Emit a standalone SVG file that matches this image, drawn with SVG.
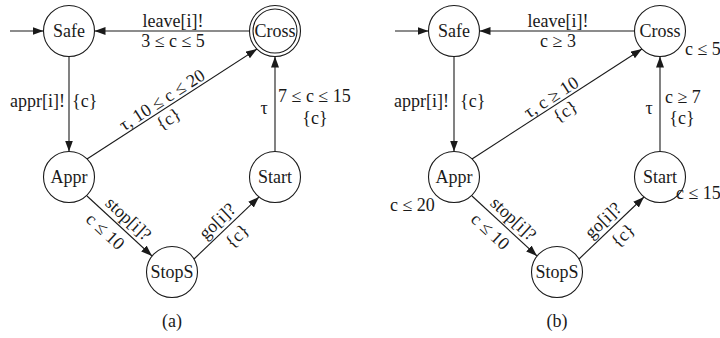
<svg xmlns="http://www.w3.org/2000/svg" width="720" height="338" viewBox="0 0 720 338">
<defs>
<style>
text{font-family:"Liberation Serif","Times New Roman",serif;font-size:18px;fill:#1a1a1a}
.n circle{fill:#fff;stroke:#1a1a1a;stroke-width:1.1}
.m{text-anchor:middle}
.e{text-anchor:end}
#edges path{fill:none;stroke:#1a1a1a;stroke-width:1.1;marker-end:url(#ah)}
</style>
<marker id="ah" markerWidth="12" markerHeight="9" refX="11" refY="4" orient="auto" markerUnits="userSpaceOnUse">
<path d="M0,0 L11,4 L0,8 z" fill="#1a1a1a"/>
</marker>
</defs>
<rect width="720" height="338" fill="#fff"/>

<g id="edges">
<path d="M10,31 L43.5,31"/>
<path d="M249.5,31 L94.5,31"/>
<path d="M69,56.5 L69,151.5"/>
<path d="M87,159 L257,49"/>
<path d="M275,151.5 L275,56.5"/>
<path d="M87,196 L152,256"/>
<path d="M194,259 L259,197"/>

<path d="M395,31 L428.5,31"/>
<path d="M634.5,31 L479.5,31"/>
<path d="M454,56.5 L454,151.5"/>
<path d="M472,159 L642,49"/>
<path d="M660,151.5 L660,56.5"/>
<path d="M472,196 L537,256"/>
<path d="M579,259 L644,197"/>
</g>

<g id="a-Safe" class="n"><circle cx="69" cy="31" r="25.5"/><text class="m" x="69" y="37">Safe</text></g>
<g id="a-Cross" class="n"><circle cx="275" cy="31" r="25.5"/><circle cx="275" cy="31" r="22"/><text class="m" x="275" y="37">Cross</text></g>
<g id="a-Appr" class="n"><circle cx="69" cy="177" r="25.5"/><text class="m" x="69" y="183">Appr</text></g>
<g id="a-Start" class="n"><circle cx="275" cy="177" r="25.5"/><text class="m" x="275" y="183">Start</text></g>
<g id="a-StopS" class="n"><circle cx="172" cy="272" r="25.5"/><text class="m" x="172" y="278">StopS</text></g>

<g id="b-Safe" class="n"><circle cx="454" cy="31" r="25.5"/><text class="m" x="454" y="37">Safe</text></g>
<g id="b-Cross" class="n"><circle cx="660" cy="31" r="25.5"/><text class="m" x="660" y="37">Cross</text></g>
<g id="b-Appr" class="n"><circle cx="454" cy="177" r="25.5"/><text class="m" x="454" y="183">Appr</text></g>
<g id="b-Start" class="n"><circle cx="660" cy="177" r="25.5"/><text class="m" x="660" y="183">Start</text></g>
<g id="b-StopS" class="n"><circle cx="557" cy="272" r="25.5"/><text class="m" x="557" y="278">StopS</text></g>

<g id="labels-a">
<text class="m" x="173" y="27">leave[i]!</text>
<text class="m" x="173" y="47">3 ≤ c ≤ 5</text>
<text class="e" x="65" y="107">appr[i]!</text>
<text x="72" y="107">{c}</text>
<g transform="translate(87,159) rotate(-32.9)">
<text class="m" x="95" y="-3">τ, 10 ≤ c ≤ 20</text>
<text class="m" x="90" y="16.5">{c}</text>
</g>
<text class="m" x="264" y="114">τ</text>
<text x="278" y="102">7 ≤ c ≤ 15</text>
<text class="m" x="315" y="124">{c}</text>
<g transform="translate(87,196) rotate(42.7)">
<text class="m" x="46" y="-5.5">stop[i]?</text>
<text class="m" x="37.5" y="19.5">c ≤ 10</text>
</g>
<g transform="translate(194,259) rotate(-43.6)">
<text class="m" x="43" y="-5.5">go[i]?</text>
<text class="m" x="47" y="19">{c}</text>
</g>
<text class="m" x="172" y="327">(a)</text>
</g>

<g id="labels-b">
<text class="m" x="558" y="27">leave[i]!</text>
<text class="m" x="558" y="47">c ≥ 3</text>
<text class="e" x="449" y="107">appr[i]!</text>
<text x="460" y="107">{c}</text>
<g transform="translate(472,159) rotate(-32.9)">
<text class="m" x="100" y="-3">τ, c ≥ 10</text>
<text class="m" x="104" y="16.5">{c}</text>
</g>
<text class="m" x="649" y="114">τ</text>
<text x="665" y="102.5">c ≥ 7</text>
<text class="m" x="682" y="124">{c}</text>
<text x="685" y="55">c ≤ 5</text>
<text x="390" y="211">c ≤ 20</text>
<text x="676" y="199">c ≤ 15</text>
<g transform="translate(472,196) rotate(42.7)">
<text class="m" x="46" y="-5.5">stop[i]?</text>
<text class="m" x="37.5" y="19.5">c ≤ 10</text>
</g>
<g transform="translate(579,259) rotate(-43.6)">
<text class="m" x="44" y="-5.5">go[i]?</text>
<text class="m" x="48" y="19">{c}</text>
</g>
<text class="m" x="557" y="327">(b)</text>
</g>
</svg>
